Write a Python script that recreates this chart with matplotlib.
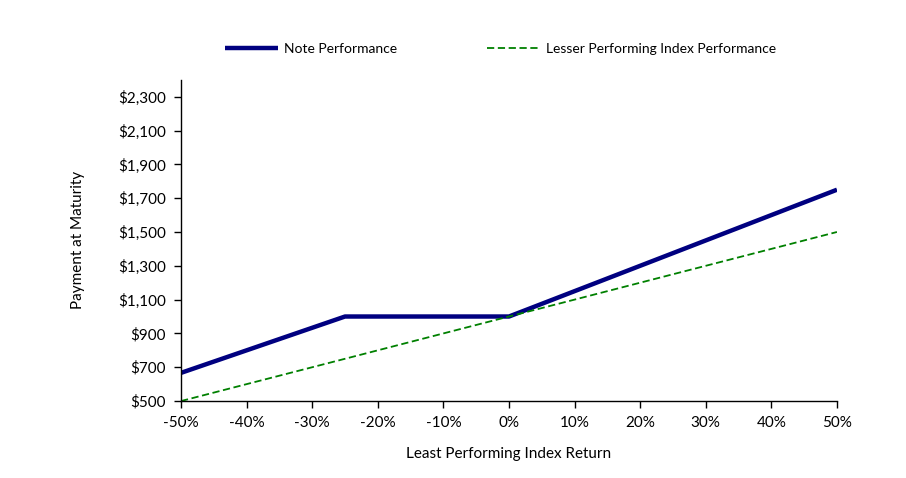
import matplotlib.pyplot as plt
from matplotlib.ticker import FuncFormatter

# index return (%) and payment at maturity ($)
index_return = [-50, -40, -30, -25, -20, -10, 0, 10, 20, 30, 40, 50]
note_payment = [666.67, 800, 933.33, 1000, 1000, 1000, 1000, 1150, 1300, 1450, 1600, 1750]
index_payment = [500, 600, 700, 750, 800, 900, 1000, 1100, 1200, 1300, 1400, 1500]

x_ticks = list(range(-50, 51, 10))
y_ticks = list(range(500, 2301, 200))

plt.rcParams['font.family'] = ['Lato', 'DejaVu Sans']

fig = plt.figure(figsize=(9.06, 4.78), dpi=100)
ax = fig.add_axes([0.1998, 0.161, 0.724, 0.672])

ax.plot(index_return, note_payment, color='#000080', linewidth=3.2,
        solid_capstyle='butt', label='Note Performance')
ax.plot(index_return, index_payment, color='#008000', linewidth=1.3,
        linestyle=(0, (4, 2)), label='Lesser Performing Index Performance')

ax.set_xlim(-50, 50)
ax.set_ylim(500, 2400)
ax.set_xticks(x_ticks)
ax.set_yticks(y_ticks)
ax.xaxis.set_major_formatter(FuncFormatter(lambda v, p: f'{v:.0f}%'))
ax.yaxis.set_major_formatter(FuncFormatter(lambda v, p: f'${v:,.0f}'))
ax.tick_params(labelsize=11, length=5, width=1, pad=6)

for side in ['top', 'right']:
    ax.spines[side].set_visible(False)
for side in ['left', 'bottom']:
    ax.spines[side].set_linewidth(1)

ax.set_xlabel('Least Performing Index Return', fontsize=11, labelpad=12)
ax.set_ylabel('Payment at Maturity', fontsize=11, labelpad=24)

fig.legend(loc='center', bbox_to_anchor=(0.5525, 0.897), ncol=2, frameon=False,
           fontsize=10, handlelength=3.8, columnspacing=6.4, handletextpad=0.5)

fig.savefig('out.png', dpi=100)
